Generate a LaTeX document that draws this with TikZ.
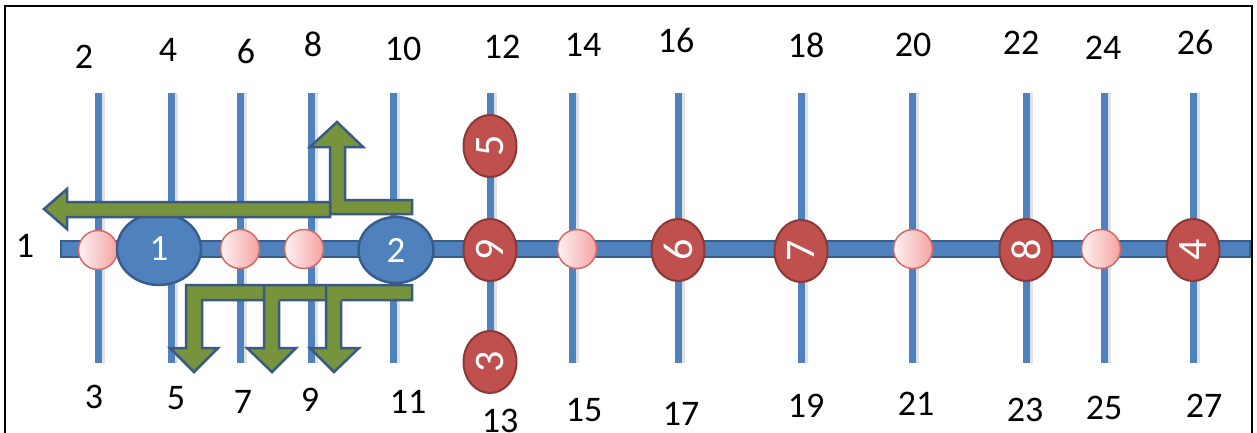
\documentclass[tikz,border=0pt]{standalone}
\usepackage{fontspec}
\setmainfont{Carlito}
\usepackage{graphicx}
\usetikzlibrary{shapes.geometric}
\definecolor{lineblue}{HTML}{4F81BD}
\definecolor{darkblue}{HTML}{385D8A}
\definecolor{redfill}{HTML}{C0504D}
\definecolor{redline}{HTML}{8C3836}
\definecolor{arrowgreen}{HTML}{77933C}
\definecolor{arrowline}{HTML}{3A5A84}
\definecolor{pinklight}{HTML}{FFF2F2}
\definecolor{pinkdark}{HTML}{F4A2A2}
\definecolor{pinkline}{HTML}{D46A68}
\begin{document}
\begin{tikzpicture}[x=1pt,y=-1pt,
  lab/.style={font=\fontsize{36}{36}\selectfont, inner sep=0pt},
  bluenode/.style={ellipse, draw=darkblue, line width=2.5pt, fill=lineblue, text=white, inner sep=0pt, font=\fontsize{37}{37}\selectfont},
  rednode/.style={ellipse, draw=redline, line width=2pt, fill=redfill, minimum width=53pt, minimum height=62pt, inner sep=0pt, text=white, font=\fontsize{42}{42}\selectfont},
  pinknode/.style={circle, draw=pinkline, line width=1.5pt, left color=pinklight, right color=pinkdark, minimum size=39pt, inner sep=0pt},
  vline/.style={lineblue, line width=7pt},
  vshadow/.style={black, opacity=0.12, line width=6pt},
  garrow/.style={fill=arrowgreen, draw=arrowline, line width=2.5pt, line join=miter}
]
\useasboundingbox (0,0) rectangle (1257,433);
% frame
\draw[black, line width=2.5pt] (5,440) -- (5,6) -- (1252,6) -- (1252,440);

% vertical lines
\foreach \n/\x in {a/98,b/171,c/240,d/311,e/393,f/490,g/572,h/678,i/801,j/912,k/1026,l/1104,m/1193}{
  \coordinate (t\n) at (\x,93);
  \coordinate (b\n) at (\x,363);
  \draw[vshadow] ([xshift=4pt]t\n) -- ([xshift=4pt]b\n);
  \draw[vline] (t\n) -- (b\n);
}

% main line
\coordinate (mainL) at (61,241);
\coordinate (mainR) at (1250,257);
\draw[fill=lineblue, draw=darkblue, line width=1.2pt] (mainL) rectangle (mainR);

% pink circles
\node[pinknode] (p1) at (98,250) {};
\node[pinknode] (p2) at (240,249) {};
\node[pinknode] (p3) at (304,249) {};
\node[pinknode] (p4) at (577,249) {};
\node[pinknode] (p5) at (913,249) {};
\node[pinknode] (p6) at (1101,249) {};

% blue nodes
\node[bluenode, minimum width=84pt, minimum height=72pt] (n1) at (159,249) {1};
\node[bluenode, minimum width=75pt, minimum height=66pt] (n2) at (396,250) {2};

% red nodes
\node[rednode] (r5) at (490,146) {\rotatebox{90}{5}};
\node[rednode] (r9) at (490,250) {\rotatebox{90}{9}};
\node[rednode] (r3) at (490,362) {\rotatebox{90}{3}};
\node[rednode] (r6) at (678,250) {\rotatebox{90}{6}};
\node[rednode] (r7) at (801,251) {\rotatebox{90}{7}};
\node[rednode] (r8) at (1026,250) {\rotatebox{90}{8}};
\node[rednode] (r4) at (1193,250) {\rotatebox{90}{4}};

% green arrows
\draw[garrow] (412,200) -- (345,200) -- (345,147) -- (363,147) -- (337,122) -- (310,147) -- (330,147) -- (330,214) -- (412,214) -- cycle;
\draw[garrow] (330,202) -- (67,202) -- (67,189) -- (44,209) -- (67,229) -- (67,217) -- (330,217) -- cycle;
\draw[garrow] (412,285) -- (186,285) -- (186,348) -- (170,348) -- (194,372) -- (218,348) -- (202,348) -- (202,300) -- (412,300) -- cycle;
\fill[arrowgreen] (264,286) -- (264,348) -- (247,348) -- (272,372) -- (296,348) -- (279,348) -- (279,298) -- cycle;
\draw[arrowline, line width=2.5pt, line join=miter] (279,301) -- (279,348) -- (296,348) -- (272,372) -- (247,348) -- (264,348) -- (264,285);
\fill[arrowgreen] (326,286) -- (326,348) -- (310,348) -- (334,372) -- (359,348) -- (341,348) -- (341,298) -- cycle;
\draw[arrowline, line width=2.5pt, line join=miter] (341,301) -- (341,348) -- (359,348) -- (334,372) -- (310,348) -- (326,348) -- (326,285);

% labels
\node[lab] (l1) at (25,246) {1};
\node[lab] (l2) at (84,57) {2};
\node[lab] (l4) at (168,50) {4};
\node[lab] (l6) at (246,51) {6};
\node[lab] (l8) at (313,44) {8};
\node[lab] (l10) at (403,49) {10};
\node[lab] (l12) at (502,47) {12};
\node[lab] (l14) at (583,45) {14};
\node[lab] (l16) at (676,40) {16};
\node[lab] (l18) at (806,45) {18};
\node[lab] (l20) at (913,45) {20};
\node[lab] (l22) at (1021,43) {22};
\node[lab] (l24) at (1103,48) {24};
\node[lab] (l26) at (1195,42) {26};
\node[lab] (l3) at (94,397) {3};
\node[lab] (l5) at (176,398) {5};
\node[lab] (l7) at (243,402) {7};
\node[lab] (l9) at (310,400) {9};
\node[lab] (l11) at (408,402) {11};
\node[lab] (l13) at (500,421) {13};
\node[lab] (l15) at (584,410) {15};
\node[lab] (l17) at (681,414) {17};
\node[lab] (l19) at (806,406) {19};
\node[lab] (l21) at (916,404) {21};
\node[lab] (l23) at (1025,410) {23};
\node[lab] (l25) at (1104,408) {25};
\node[lab] (l27) at (1204,406) {27};
\end{tikzpicture}
\end{document}
